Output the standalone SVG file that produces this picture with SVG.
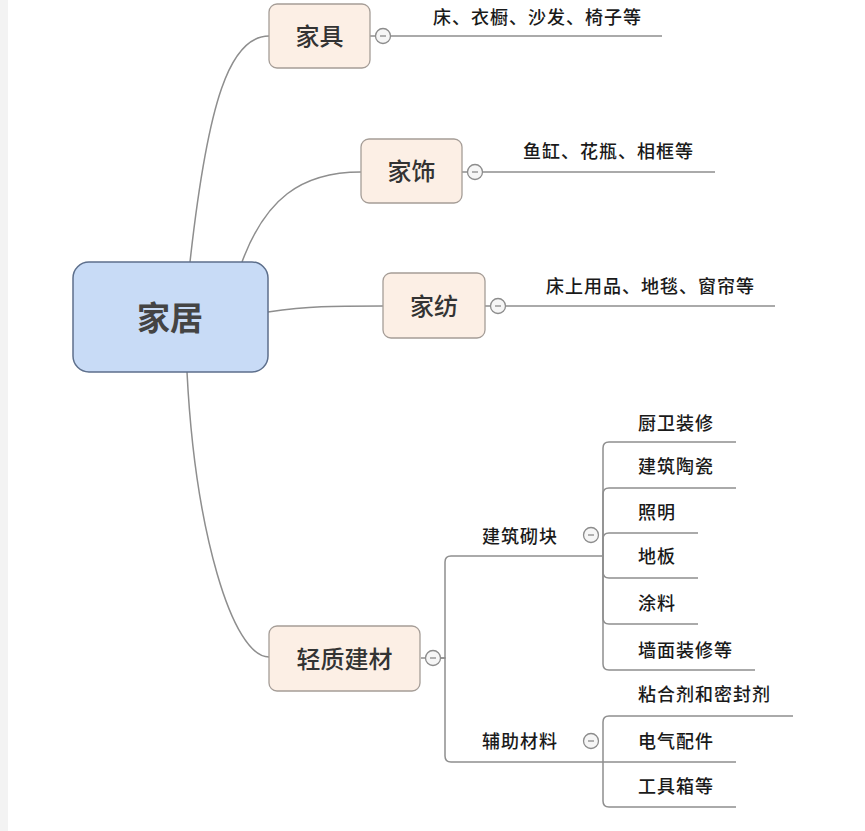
<svg xmlns="http://www.w3.org/2000/svg" width="865" height="831" viewBox="0 0 865 831">
<defs>
<style>
.conn{fill:none;stroke:#8e8e8e;stroke-width:1.5}
.leafline{fill:none;stroke:#8e8e8e;stroke-width:1.5}
.node{fill:#fcefe5;stroke:#a59d97;stroke-width:1.3}
.root{fill:#c8dbf6;stroke:#5d6f8c;stroke-width:1.5}
.ntext{font-family:"Noto Sans CJK SC","Noto Sans CJK JP",sans-serif;font-size:24px;font-weight:500;fill:#333;text-anchor:middle}
.rtext{font-family:"Noto Sans CJK SC","Noto Sans CJK JP",sans-serif;font-size:33px;font-weight:bold;fill:#444;text-anchor:middle}
.ltext{font-family:"Noto Sans CJK SC","Noto Sans CJK JP",sans-serif;font-size:18px;font-weight:500;letter-spacing:1px;fill:#1a1a1a}
.tog circle{fill:#f6f6f6;stroke:#8c8c8c;stroke-width:1.3}
.tog line{stroke:#8a8a8a;stroke-width:1.3}
</style>
</defs>
<rect x="0" y="0" width="865" height="831" fill="#ffffff"/>
<rect x="0" y="0" width="8" height="831" fill="#f3f3f3"/>

<g id="connectors">
<path class="conn" d="M190,262 C208,100 230,36 269,36"/>
<path class="conn" d="M242,262 C265,200 300,172 361,172"/>
<path class="conn" d="M268,312 C310,306 330,306 383,306"/>
<path class="conn" d="M187,372 C195,530 232,657 269,657"/>
<path class="conn" d="M370,36 H376"/>
<path class="conn" d="M462,172 H468"/>
<path class="conn" d="M485,306 H491"/>
<path class="conn" d="M421,658 H426"/>
<path class="leafline" d="M390.5,36 H662"/>
<path class="leafline" d="M482.5,172 H715"/>
<path class="leafline" d="M505.5,306 H775"/>
<path class="conn" d="M440.5,658 H445 V562 Q445,556 451,556 H603"/>
<path class="conn" d="M440.5,658 H445 V756 Q445,762 451,762 H603"/>
<path class="leafline" d="M603,556 V448 Q603,442 609,442 H736"/>
<path class="leafline" d="M603,556 V494 Q603,488 609,488 H736"/>
<path class="leafline" d="M603,556 V539 Q603,533 609,533 H698"/>
<path class="leafline" d="M603,556 V572 Q603,578 609,578 H698"/>
<path class="leafline" d="M603,556 V618 Q603,624 609,624 H698"/>
<path class="leafline" d="M603,556 V664 Q603,670 609,670 H755"/>
<path class="leafline" d="M603,762 V722 Q603,716 609,716 H793"/>
<path class="leafline" d="M603,762 H736"/>
<path class="leafline" d="M603,762 V801 Q603,807 609,807 H736"/>
</g>

<g id="root">
<rect class="root" x="73" y="262" width="195" height="110" rx="16"/>
<text class="rtext" x="170" y="330">家居</text>
</g>

<g id="jiaju">
<rect class="node" x="269" y="4" width="101" height="64" rx="8"/>
<text class="ntext" x="319.5" y="45">家具</text>
<g class="tog"><circle cx="383" cy="36" r="7.5"/><line x1="380" y1="36" x2="386" y2="36"/></g>
</g>
<g id="jiaju-leaf"><text class="ltext" x="433" y="23.5">床、衣橱、沙发、椅子等</text></g>

<g id="jiashi">
<rect class="node" x="361" y="139" width="101" height="64" rx="8"/>
<text class="ntext" x="411.5" y="180">家饰</text>
<g class="tog"><circle cx="475" cy="172" r="7.5"/><line x1="472" y1="172" x2="478" y2="172"/></g>
</g>
<g id="jiashi-leaf"><text class="ltext" x="523" y="158">鱼缸、花瓶、相框等</text></g>

<g id="jiafang">
<rect class="node" x="383" y="273" width="102" height="65" rx="8"/>
<text class="ntext" x="434" y="314.5">家纺</text>
<g class="tog"><circle cx="498" cy="306" r="7.5"/><line x1="495" y1="306" x2="501" y2="306"/></g>
</g>
<g id="jiafang-leaf"><text class="ltext" x="546" y="293">床上用品、地毯、窗帘等</text></g>

<g id="qingzhi">
<rect class="node" x="269" y="626" width="151" height="65" rx="8"/>
<text class="ntext" x="344.5" y="667.5">轻质建材</text>
<g class="tog"><circle cx="433" cy="658" r="7.5"/><line x1="430" y1="658" x2="436" y2="658"/></g>
</g>

<g id="jianzhu">
<text class="ltext" x="482" y="543">建筑砌块</text>
<g class="tog"><circle cx="591" cy="535" r="7.5"/><line x1="588" y1="535" x2="594" y2="535"/></g>
</g>
<g id="chuwei"><text class="ltext" x="638" y="430">厨卫装修</text></g>
<g id="taoci"><text class="ltext" x="638" y="473">建筑陶瓷</text></g>
<g id="zhaoming"><text class="ltext" x="638" y="519">照明</text></g>
<g id="diban"><text class="ltext" x="638" y="563">地板</text></g>
<g id="tuliao"><text class="ltext" x="638" y="610">涂料</text></g>
<g id="qiangmian"><text class="ltext" x="638" y="657">墙面装修等</text></g>

<g id="fuzhu">
<text class="ltext" x="482" y="748">辅助材料</text>
<g class="tog"><circle cx="591" cy="741" r="7.5"/><line x1="588" y1="741" x2="594" y2="741"/></g>
</g>
<g id="nianhe"><text class="ltext" x="638" y="701">粘合剂和密封剂</text></g>
<g id="dianqi"><text class="ltext" x="638" y="748">电气配件</text></g>
<g id="gongju"><text class="ltext" x="638" y="793">工具箱等</text></g>
</svg>
